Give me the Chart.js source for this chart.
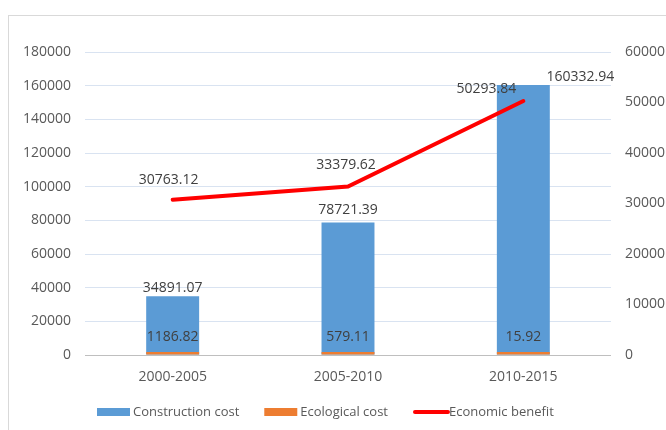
<!DOCTYPE html>
<html>
<head>
<meta charset="utf-8">
<script src="https://cdn.jsdelivr.net/npm/chart.js@4.4.1/dist/chart.umd.min.js"></script>
<style>
  html, body { margin: 0; padding: 0; background: #ffffff; overflow: hidden; }
  #wrap { position: relative; width: 666px; height: 430px; }
  #frame { position: absolute; left: 8px; top: 15px; width: 700px; height: 500px; border: 1px solid #d9d9d9; box-sizing: border-box; }
  canvas { position: absolute; left: 0; top: 0; }
</style>
</head>
<body>
<div id="wrap">
  <div id="frame"></div>
  <canvas id="c" width="666" height="430"></canvas>
</div>
<script>
const categories = ["2000-2005", "2005-2010", "2010-2015"];
const constructionCost = [34891.07, 78721.39, 160332.94];
const ecologicalCost = [1186.82, 579.11, 15.92];
const economicBenefit = [30763.12, 33379.62, 50293.84];
const leftTicks = [0, 20000, 40000, 60000, 80000, 100000, 120000, 140000, 160000, 180000];
const rightTicks = [0, 10000, 20000, 30000, 40000, 50000, 60000];
const seriesNames = ["Construction cost", "Ecological cost", "Economic benefit"];

const FONT = "'Open Sans', 'Noto Sans', sans-serif";
const COLORS = { blue: "#5B9BD5", orange: "#ED7D31", red: "#FF0000" };

const labelPlugin = {
  id: "valueLabels",
  afterDatasetsDraw(chart) {
    const ctx = chart.ctx;
    ctx.save();
    ctx.font = "14px " + FONT;
    ctx.fillStyle = "#404040";
    ctx.textAlign = "center";
    ctx.textBaseline = "middle";
    const offs = [
      [[0, -8], [0, -12], [57, -8]],
      [[0, -15], [0, -15], [0, -15]],
      [[-4, -20], [-2, -21], [-37, -12]]
    ];
    chart.data.datasets.forEach((ds, di) => {
      const meta = chart.getDatasetMeta(di);
      meta.data.forEach((el, i) => {
        const v = ds.data[i];
        const o = offs[di][i];
        ctx.fillText(v.toFixed(2), el.x + o[0], el.y + o[1]);
      });
    });
    ctx.restore();
  },
  afterDraw(chart) {
    const ctx = chart.ctx;
    ctx.save();
    ctx.font = "13px " + FONT;
    ctx.textBaseline = "middle";
    ctx.textAlign = "left";
    let x = 97;
    const y = 412;
    const cols = [COLORS.blue, COLORS.orange, COLORS.red];
    seriesNames.forEach((name, i) => {
      if (i < 2) {
        ctx.fillStyle = cols[i];
        ctx.fillRect(x, y - 4, 33, 8);
      } else {
        ctx.strokeStyle = cols[i];
        ctx.lineWidth = 4;
        ctx.lineCap = "round";
        ctx.beginPath();
        ctx.moveTo(x + 2, y);
        ctx.lineTo(x + 35, y);
        ctx.stroke();
      }
      ctx.fillStyle = "#595959";
      ctx.fillText(name, x + 36, y);
      x += 36 + ctx.measureText(name).width + 25;
    });
    ctx.restore();
  }
};

const plain = (v) => String(v);

new Chart(document.getElementById("c"), {
  type: "bar",
  data: {
    labels: categories,
    datasets: [
      {
        label: seriesNames[0],
        data: constructionCost,
        backgroundColor: COLORS.blue,
        yAxisID: "y",
        order: 2,
        categoryPercentage: 1,
        barPercentage: 0.302
      },
      {
        label: seriesNames[1],
        data: ecologicalCost,
        backgroundColor: COLORS.orange,
        yAxisID: "y",
        order: 1,
        categoryPercentage: 1,
        barPercentage: 0.302,
        minBarLength: 3
      },
      {
        type: "line",
        label: seriesNames[2],
        data: economicBenefit,
        borderColor: COLORS.red,
        backgroundColor: COLORS.red,
        borderWidth: 4,
        pointRadius: 0,
        tension: 0,
        borderCapStyle: "round",
        yAxisID: "y1",
        order: 0
      }
    ]
  },
  options: {
    responsive: false,
    animation: false,
    devicePixelRatio: 1,
    layout: { padding: { left: 0, right: 0, top: 52, bottom: 0 } },
    plugins: { legend: { display: false }, tooltip: { enabled: false } },
    scales: {
      x: {
        stacked: true,
        grid: { display: false, drawTicks: false },
        border: { display: false },
        ticks: { color: "#595959", font: { family: FONT, size: 14 }, padding: 14 },
        afterFit(s) { s.height = 75; }
      },
      y: {
        position: "left",
        min: 0,
        max: leftTicks[leftTicks.length - 1],
        afterBuildTicks(s) { s.ticks = leftTicks.map(v => ({ value: v })); },
        grid: {
          drawTicks: false,
          color: (c) => (c.tick && c.tick.value === 0 ? "#BFBFBF" : "#D9E3F1"),
          lineWidth: 1
        },
        border: { display: false },
        ticks: { color: "#595959", font: { family: FONT, size: 14 }, padding: 14, callback: plain },
        afterFit(s) { s.width = 85; }
      },
      y1: {
        position: "right",
        min: 0,
        max: rightTicks[rightTicks.length - 1],
        afterBuildTicks(s) { s.ticks = rightTicks.map(v => ({ value: v })); },
        grid: { display: false, drawTicks: false },
        border: { display: false },
        ticks: { color: "#595959", font: { family: FONT, size: 14 }, padding: 14, callback: plain },
        afterFit(s) { s.width = 55; }
      }
    }
  },
  plugins: [labelPlugin]
});
</script>
</body>
</html>
